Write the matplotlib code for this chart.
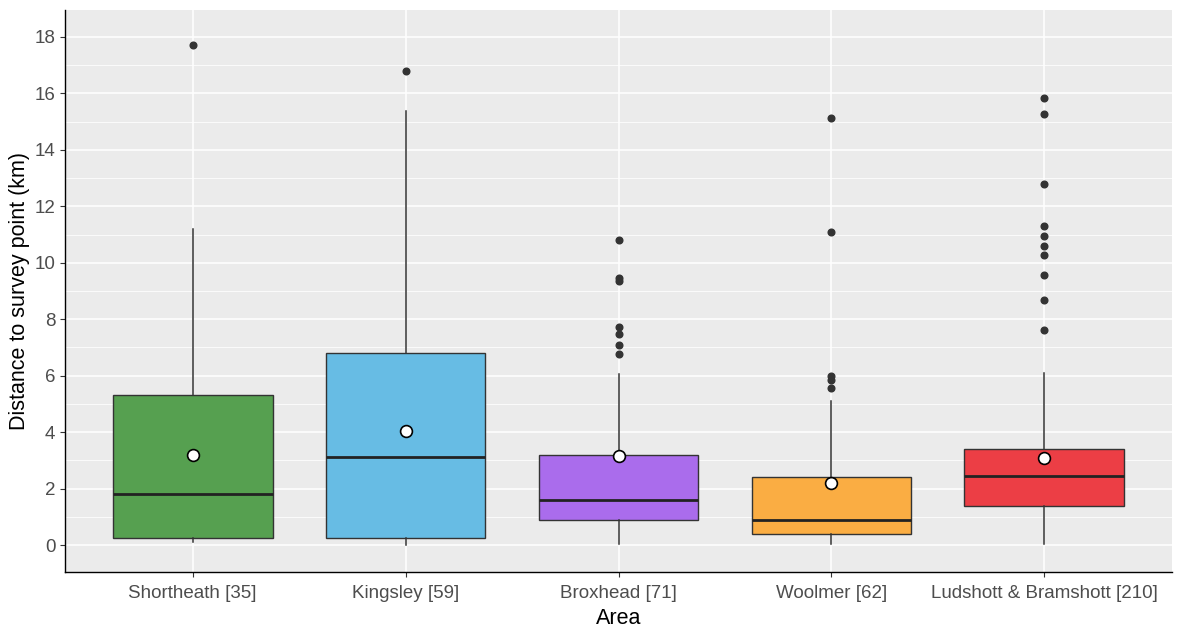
import numpy as np
import matplotlib
matplotlib.use("Agg")
import matplotlib.pyplot as plt
from matplotlib.ticker import MultipleLocator

plt.rcParams['font.family'] = ['Liberation Sans', 'DejaVu Sans']

# data
areas = ['Shortheath [35]', 'Kingsley [59]', 'Broxhead [71]', 'Woolmer [62]', 'Ludshott & Bramshott [210]']
q1 = [0.27, 0.27, 0.88, 0.40, 1.37]
median = [1.80, 3.12, 1.61, 0.89, 2.45]
q3 = [5.31, 6.81, 3.19, 2.43, 3.39]
whisk_lo = [0.12, 0.02, 0.03, 0.03, 0.03]
whisk_hi = [11.21, 15.37, 6.07, 5.10, 6.09]
means = [3.21, 4.04, 3.14, 2.19, 3.07]
outliers = [
    [17.7],
    [16.78],
    [6.78, 7.09, 7.48, 7.73, 9.35, 9.46, 10.8],
    [5.55, 5.85, 6.0, 11.09, 15.13],
    [7.62, 8.68, 9.58, 10.28, 10.6, 10.94, 11.31, 12.8, 15.27, 15.83],
]
colors = ['#56A050', '#67BCE4', '#AA6CEC', '#FAAD43', '#EC3E45']

stats = []
for i, name in enumerate(areas):
    stats.append(dict(label=name, q1=q1[i], med=median[i], q3=q3[i],
                      whislo=whisk_lo[i], whishi=whisk_hi[i], fliers=outliers[i]))

fig = plt.figure(figsize=(11.89, 6.28), dpi=100)
ax = fig.add_axes([65 / 1189, 1 - 572 / 628, (1172 - 65) / 1189, (572 - 10) / 628])
ax.set_facecolor('#EBEBEB')

pos = np.arange(1, len(areas) + 1)
bp = ax.bxp(stats, positions=pos, widths=0.75, patch_artist=True, showcaps=False,
            boxprops=dict(edgecolor='#333333', linewidth=1.0),
            whiskerprops=dict(color='#333333', linewidth=1.1),
            medianprops=dict(color='#222222', linewidth=2.0),
            flierprops=dict(marker='o', markerfacecolor='#333333', markeredgecolor='#333333',
                            markersize=4.8, linestyle='none'),
            zorder=3)
for patch, c in zip(bp['boxes'], colors):
    patch.set_facecolor(c)

ax.plot(pos, means, linestyle='none', marker='o', markersize=8.5, markerfacecolor='white',
        markeredgecolor='black', markeredgewidth=1.2, zorder=5)

ax.set_xlim(0.4, 5.6)
ax.set_ylim(-0.95, 18.95)
ax.yaxis.set_major_locator(MultipleLocator(2))
ax.yaxis.set_minor_locator(MultipleLocator(1))
ax.set_xticks(pos)
ax.set_xticklabels(areas)

ax.grid(True, which='major', color='white', linewidth=1.1, zorder=0)
ax.grid(True, which='minor', axis='y', color='white', linewidth=0.55, zorder=0)
ax.set_axisbelow(True)

for side in ['top', 'right']:
    ax.spines[side].set_visible(False)
for side in ['left', 'bottom']:
    ax.spines[side].set_color('black')
    ax.spines[side].set_linewidth(1.0)

ax.tick_params(axis='both', which='major', length=3.5, width=0.8, color='#333333',
               labelcolor='#4D4D4D', labelsize=13.5)
ax.tick_params(axis='x', which='major', pad=6)
ax.tick_params(axis='y', which='minor', length=0)

ax.set_xlabel('Area', fontsize=15.5, color='black', labelpad=4)
ax.set_ylabel('Distance to survey point (km)', fontsize=15.5, color='black', labelpad=3)

fig.savefig('out.png', dpi=100)
